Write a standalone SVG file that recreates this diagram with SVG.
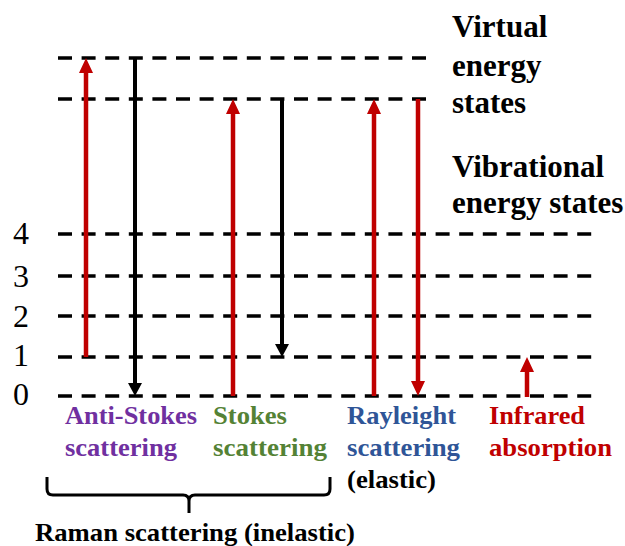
<svg xmlns="http://www.w3.org/2000/svg" width="625" height="546" viewBox="0 0 625 546">
  <style>
    .lvl { stroke: #000; stroke-width: 3.5; stroke-dasharray: 14 9.6; fill: none; }
    .red { stroke: #C00000; stroke-width: 4.5; fill: none; }
    .blk { stroke: #000; stroke-width: 4; fill: none; }
    text { font-family: 'Liberation Serif', 'DejaVu Serif', serif; }
    .t { font-weight: bold; }
    .num { font-size: 32px; fill: #000; }
    .state { font-size: 31px; fill: #000; }
    .lab { font-size: 26px; }
    .purple { fill: #7030A0; }
    .green { fill: #548235; }
    .blue { fill: #2F5597; }
    .dred { fill: #C00000; }
    .brace { stroke: #000; stroke-width: 3; fill: none; stroke-linejoin: round; }
  </style>
  <defs>
    <marker id="hr" markerUnits="userSpaceOnUse" markerWidth="15" markerHeight="14" refX="0" refY="7" orient="auto">
      <path d="M0,0 L15,7 L0,14 Z" fill="#C00000"/>
    </marker>
    <marker id="hb" markerUnits="userSpaceOnUse" markerWidth="13" markerHeight="14" refX="0" refY="7" orient="auto">
      <path d="M0,0 L13,7 L0,14 Z" fill="#000"/>
    </marker>
  </defs>
  <rect width="625" height="546" fill="#fff"/>

  <g id="levels">
    <line class="lvl" x1="58" y1="58" x2="426" y2="58"/>
    <line class="lvl" x1="58" y1="99" x2="426" y2="99"/>
    <line class="lvl" x1="58" y1="234" x2="593" y2="234"/>
    <line class="lvl" x1="58" y1="276" x2="593" y2="276"/>
    <line class="lvl" x1="58" y1="316" x2="593" y2="316"/>
    <line class="lvl" x1="58" y1="357" x2="593" y2="357"/>
    <line class="lvl" x1="58" y1="396" x2="593" y2="396"/>
  </g>

  <g id="level-numbers" class="num">
    <text x="13" y="244">4</text>
    <text x="13" y="287">3</text>
    <text x="13" y="327">2</text>
    <text x="13" y="366">1</text>
    <text x="13" y="405">0</text>
  </g>

  <g id="connectors">
    <line class="red" x1="86" y1="357" x2="86" y2="73" marker-end="url(#hr)"/>
    <line class="blk" x1="135" y1="58" x2="135" y2="383" marker-end="url(#hb)"/>
    <line class="red" x1="233" y1="396" x2="233" y2="114" marker-end="url(#hr)"/>
    <line class="blk" x1="282" y1="99" x2="282" y2="344" marker-end="url(#hb)"/>
    <line class="red" x1="374" y1="396" x2="374" y2="114" marker-end="url(#hr)"/>
    <line class="red" x1="418" y1="99" x2="418" y2="381" marker-end="url(#hr)"/>
    <line class="red" x1="527" y1="397" x2="527" y2="372" marker-end="url(#hr)"/>
  </g>

  <g id="virtual-label" class="t state">
    <text x="452" y="37">Virtual</text>
    <text x="452" y="76">energy</text>
    <text x="452" y="113">states</text>
  </g>
  <g id="vibrational-label" class="t state">
    <text x="452" y="177">Vibrational</text>
    <text x="452" y="213">energy states</text>
  </g>

  <g id="anti-stokes" class="t lab purple">
    <text x="65" y="424" textLength="132" lengthAdjust="spacingAndGlyphs">Anti-Stokes</text>
    <text x="65" y="456" textLength="112" lengthAdjust="spacingAndGlyphs">scattering</text>
  </g>
  <g id="stokes" class="t lab green">
    <text x="213" y="424" textLength="74" lengthAdjust="spacingAndGlyphs">Stokes</text>
    <text x="213" y="456" textLength="114" lengthAdjust="spacingAndGlyphs">scattering</text>
  </g>
  <g id="rayleigh" class="t lab">
    <text class="blue" x="347" y="424" textLength="109" lengthAdjust="spacingAndGlyphs">Rayleight</text>
    <text class="blue" x="347" y="456" textLength="113" lengthAdjust="spacingAndGlyphs">scattering</text>
    <text x="347" y="488" fill="#000" textLength="89" lengthAdjust="spacingAndGlyphs">(elastic)</text>
  </g>
  <g id="infrared" class="t lab dred">
    <text x="489" y="424" textLength="96" lengthAdjust="spacingAndGlyphs">Infrared</text>
    <text x="489" y="456" textLength="123" lengthAdjust="spacingAndGlyphs">absorption</text>
  </g>

  <g id="raman-brace">
    <path class="brace" d="M47,477 L47,489 Q47,495 53,495 L183,495 Q189,495 189,501 L189,513 M189,501 Q189,495 195,495 L324,495 Q330,495 330,489 L330,477"/>
    <text class="t lab" x="35" y="541" fill="#000" textLength="320" lengthAdjust="spacingAndGlyphs">Raman scattering (inelastic)</text>
  </g>
</svg>
